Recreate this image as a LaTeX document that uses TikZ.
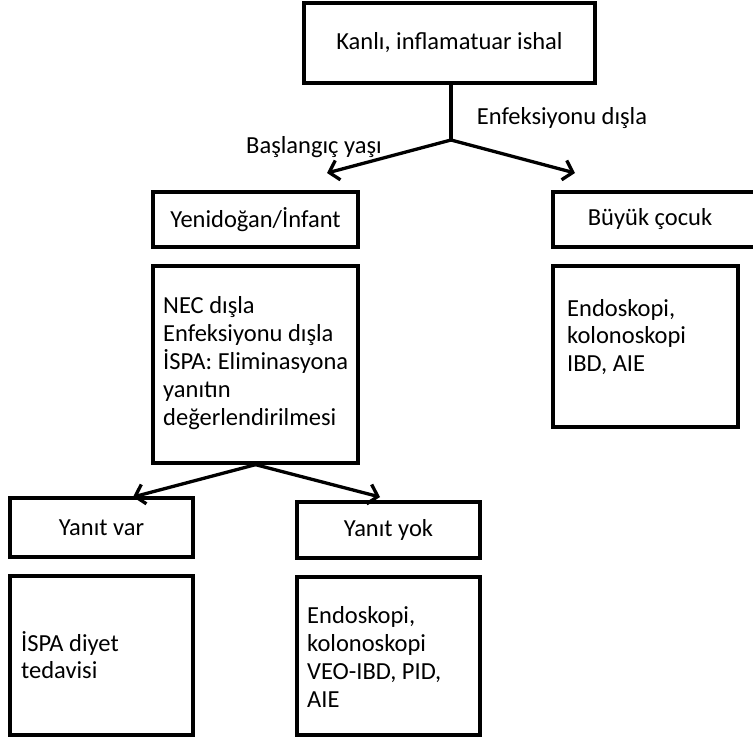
\documentclass[tikz,border=0pt]{standalone}
\usepackage{fontspec}
\setmainfont{Carlito}
\usetikzlibrary{arrows.meta}
% chart font with a fixed line pitch
\newcommand{\chartfont}{\fontsize{24.5}{27.8}\selectfont\lineskiplimit=-100pt\relax}
\begin{document}
\begin{tikzpicture}[x=1pt,y=-1pt,
  every node/.style={font=\chartfont},
  box/.style={draw,line width=3.3pt,rectangle,inner sep=0pt,align=center},
  lbl/.style={inner sep=0pt},
  lines/.style={inner sep=0pt,anchor=west,align=left},
  flow/.style={line width=3.3pt,-{Straight Barb[length=9pt,width=20pt,line width=3.3pt]}},
  stem/.style={line width=3.3pt}]
\useasboundingbox (0,0) rectangle (753,739);

% first level
\node[box,minimum width=291pt,minimum height=80pt] (top) at (449.5,43) {Kanlı, inflamatuar ishal};
\coordinate (split) at (451,140);
\coordinate (tipL) at (327,173);
\coordinate (tipR) at (575,173);
\draw[stem] (top.south -| split) -- (split);
\draw[flow] (split) -- (tipL);
\draw[flow] (split) -- (tipR);
\node[lbl] (exclude) at (562,118) {Enfeksiyonu dışla};
\node[lbl] (age) at (314,147) {Başlangıç yaşı};

% age groups
\node[box,minimum width=205pt,minimum height=55pt] (infant) at (255.5,219.5) {Yenidoğan/İnfant};
\node[box,minimum width=207pt,minimum height=55pt] (older) at (656.5,219.5) {};
\node[lbl] (olderText) at (650,219.5) {Büyük çocuk};

\node[box,minimum width=205pt,minimum height=197pt] (nec) at (255.5,364.5) {};
\node[lines] (necText) at (163,363)
  {NEC dışla\\Enfeksiyonu dışla\\İSPA: Eliminasyona\\yanıtın\\değerlendirilmesi};
\node[box,minimum width=185pt,minimum height=161pt] (endoA) at (645.5,346.5) {};
\node[lines] (endoAText) at (567,337)
  {Endoskopi,\\kolonoskopi\\IBD, AIE};

% response to elimination
\coordinate (tipVar) at (133,497);
\coordinate (tipYok) at (380,497);
\draw[flow] (nec.south) -- (tipVar);
\draw[flow] (nec.south) -- (tipYok);

\node[box,minimum width=183pt,minimum height=59pt] (var) at (101.5,527.5) {Yanıt var};
\node[box,minimum width=183pt,minimum height=56pt] (yok) at (388.5,530) {Yanıt yok};

\node[box,minimum width=183pt,minimum height=159pt] (diet) at (101.5,655.5) {};
\node[lines] (dietText) at (21,655)
  {İSPA diyet\\tedavisi};
\node[box,minimum width=183pt,minimum height=158pt] (endoB) at (388.5,656) {};
\node[lines] (endoBText) at (307,657)
  {Endoskopi,\\kolonoskopi\\VEO-IBD, PID,\\AIE};
\end{tikzpicture}
\end{document}
